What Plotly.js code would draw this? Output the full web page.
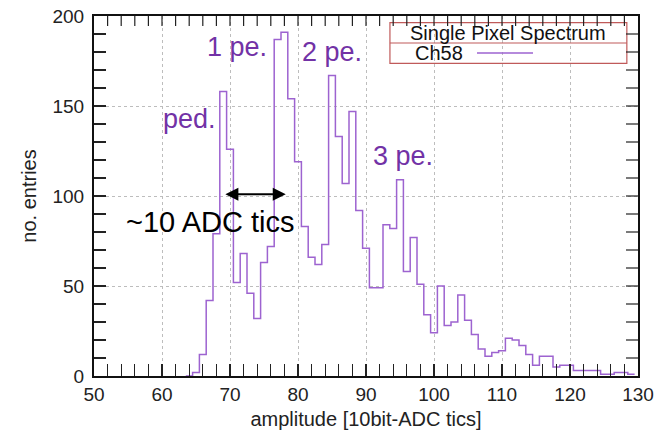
<!DOCTYPE html>
<html>
<head>
<meta charset="utf-8">
<script src="https://cdn.plot.ly/plotly-3.0.1.min.js"></script>
<style>html,body{margin:0;padding:0;background:#fff;}#chart{width:656px;height:439px;}</style>
</head>
<body>
<div id="chart"></div>
<script>
// Bin centres (10bit-ADC tics) and entries per bin
const binCenters = [64,65,66,67,68,69,70,71,72,73,74,75,76,77,78,79,80,81,82,83,84,85,86,87,88,89,90,91,92,93,94,95,96,97,98,99,100,101,102,103,104,105,106,107,108,109,110,111,112,113,114,115,116,117,118,119,120,121,122,123,124,125,126,127,128,129];
const entries = [0,2,12,42,79,158,126,52,68,46,32,63,72,187,191,154,119,83,66,62,73,167,133,107,147,92,71,49,49,84,82,109,58,77,51,34,24,50,28,30,45,31,23,15,11,13,14,21,20,17,12,6,11,11,5,6,6,3,3,3,3,1,1,2,2,1];
const binWidth = 1;
const seriesName = "Ch58";
const legendTitle = "Single Pixel Spectrum";
const peakLabels = ["ped.", "1 pe.", "2 pe.", "3 pe."];
const peakLabelX = [64.1, 71.0, 85.0, 95.4];
const peakLabelY = [143, 183, 180, 122];
const spacingText = "~10 ADC tics";
const arrowFrom = 69.1, arrowTo = 78.2, arrowLevel = 101;
const xRange = [50, 130], yRange = [0, 200];
const xMinorStep = 2, yMinorStep = 10;

// step outline: left edges + final right edge
const xs = binCenters.map(c => c - binWidth / 2);
xs.push(binCenters[binCenters.length - 1] + binWidth / 2);
const ys = entries.slice();
ys.push(entries[entries.length - 1]);

const lineColor = "#9d63d0";
const labelColor = "#7232a6";
const font = "Arial, 'Liberation Sans', sans-serif";

const W = 656, H = 439, M = {l: 94, r: 18, t: 16, b: 63};
const plotW = W - M.l - M.r, plotH = H - M.t - M.b;

const trace = {
  x: xs, y: ys, type: "scatter", mode: "lines",
  line: {shape: "hv", color: lineColor, width: 1.5},
  name: seriesName, showlegend: false, hoverinfo: "x+y"
};

const annotations = peakLabels.map((t, i) => ({
  x: peakLabelX[i], y: peakLabelY[i], xref: "x", yref: "y",
  text: t, showarrow: false, font: {family: font, size: 27, color: labelColor}
}));
annotations.push({x: 67.1, y: 85.5, xref: "x", yref: "y", text: spacingText,
  showarrow: false, font: {family: font, size: 29, color: "#000"}});
annotations.push({x: arrowTo, y: arrowLevel, ax: arrowFrom, ay: arrowLevel,
  xref: "x", yref: "y", axref: "x", ayref: "y", text: "", showarrow: true,
  arrowhead: 2, startarrowhead: 2, arrowside: "end+start", arrowsize: 1.3, arrowwidth: 2, arrowcolor: "#000"});
// legend box texts
annotations.push({x: 0.761, y: 0.952, xref: "paper", yref: "paper", xanchor: "center", yanchor: "middle",
  text: legendTitle, showarrow: false, font: {family: font, size: 20, color: "#111"}});
annotations.push({x: 0.634, y: 0.897, xref: "paper", yref: "paper", xanchor: "center", yanchor: "middle",
  text: seriesName, showarrow: false, font: {family: font, size: 20, color: "#111"}});

const boxColor = "#c05a5a";
const shapes = [
  {type: "rect", xref: "paper", yref: "paper", x0: 0.544, x1: 0.9795, y0: 0.8685, y1: 0.9814,
   line: {color: boxColor, width: 1.2}, fillcolor: "rgba(255,255,255,0)"},
  {type: "line", xref: "paper", yref: "paper", x0: 0.544, x1: 0.9795, y0: 0.925, y1: 0.925,
   line: {color: boxColor, width: 1.2}},
  {type: "line", xref: "paper", yref: "paper", x0: 0.704, x1: 0.807, y0: 0.897, y1: 0.897,
   line: {color: lineColor, width: 1.5}}
];
// mirrored inside ticks on the top and right frame edges
const tickLenTop = 10, tickLenRight = 12;
for (let v = xRange[0] + xMinorStep; v < xRange[1]; v += xMinorStep) {
  shapes.push({type: "line", xref: "x", yref: "paper", x0: v, x1: v, y0: 1, y1: 1 - tickLenTop / plotH,
    line: {color: "#222", width: 1.2}});
}
for (let v = yRange[0] + yMinorStep; v < yRange[1]; v += yMinorStep) {
  shapes.push({type: "line", xref: "paper", yref: "y", x0: 1, x1: 1 - tickLenRight / plotW, y0: v, y1: v,
    line: {color: "#222", width: 1.2}});
}

const tickStyle = {ticks: "inside", ticklen: 12, tickwidth: 1.2, tickcolor: "#222"};

const layout = {
  width: W, height: H,
  margin: M,
  paper_bgcolor: "#fff", plot_bgcolor: "#fff",
  showlegend: false,
  font: {family: font, color: "#222"},
  xaxis: Object.assign({
    range: xRange, dtick: 10, tick0: 50,
    showline: true, linecolor: "#111", linewidth: 2, mirror: true,
    minor: Object.assign({dtick: xMinorStep, showgrid: false}, tickStyle),
    showgrid: true, gridcolor: "#bdbdbd", griddash: "dot", gridwidth: 1,
    zeroline: false,
    tickfont: {size: 19, color: "#222"},
    title: {text: "amplitude [10bit-ADC tics]", font: {size: 20, color: "#222"}, standoff: 8}
  }, tickStyle),
  yaxis: Object.assign({
    range: yRange, dtick: 50, tick0: 0,
    showline: true, linecolor: "#111", linewidth: 2, mirror: true,
    minor: Object.assign({dtick: yMinorStep, showgrid: false}, tickStyle),
    showgrid: true, gridcolor: "#bdbdbd", griddash: "dot", gridwidth: 1,
    zeroline: false,
    tickfont: {size: 19, color: "#222"},
    ticklabelstandoff: 4,
    title: {text: "no. entries", font: {size: 20, color: "#222"}, standoff: 10}
  }, tickStyle),
  annotations: annotations,
  shapes: shapes
};

Plotly.newPlot("chart", [trace], layout, {displayModeBar: false, staticPlot: true});
</script>
</body>
</html>
